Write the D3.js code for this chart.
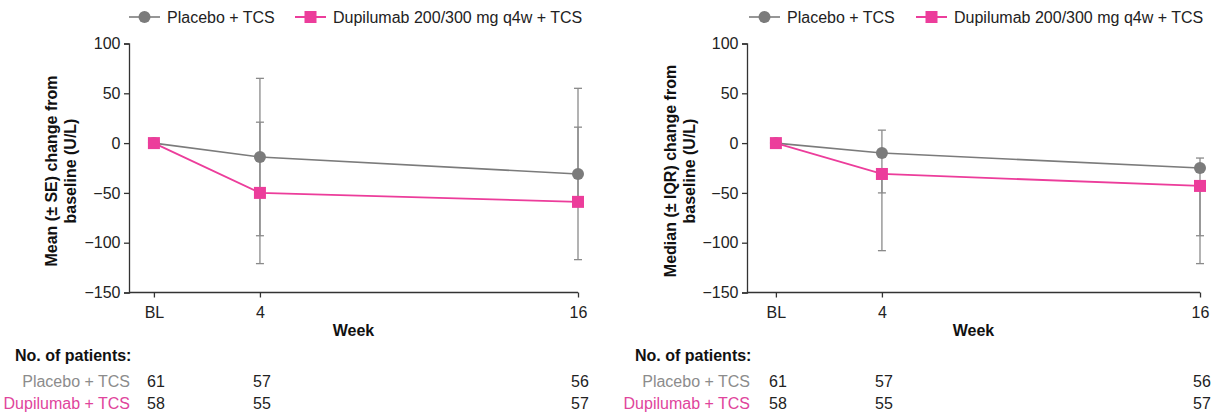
<!DOCTYPE html>
<html>
<head>
<meta charset="utf-8">
<script src="https://cdn.jsdelivr.net/npm/d3@7/dist/d3.min.js"></script>
<style>
  html, body { margin: 0; padding: 0; background: #fff; }
  svg { display: block; font-family: "Liberation Sans", Arial, sans-serif; }
</style>
</head>
<body>
<svg id="chart" width="1225" height="416"></svg>
<script>
// Visit weeks and their tick labels
const weeks = [0, 4, 16];
const weekLabels = ["BL", "4", "16"];
const yTicks = [100, 50, 0, -50, -100, -150];

// Mean (± SE) change from baseline
const meanPlacebo   = [0, -14, -31];
const meanPlaceboLo = [0, -93, -117];
const meanPlaceboHi = [0, 65, 55];
const meanDupi      = [0, -50, -59];
const meanDupiLo    = [0, -121, -59];
const meanDupiHi    = [0, 21, 16];

// Median (± IQR) change from baseline
const medPlacebo   = [0, -10, -25];
const medPlaceboLo = [0, -50, -93];
const medPlaceboHi = [0, 13, -15];
const medDupi      = [0, -31, -43];
const medDupiLo    = [0, -108, -121];
const medDupiHi    = [0, -31, -43];

// Patients at each visit
const nPlacebo = [61, 57, 56];
const nDupi    = [58, 55, 57];

const legendNames = ["Placebo + TCS", "Dupilumab 200/300 mg q4w + TCS"];
const rowNames = ["Placebo + TCS", "Dupilumab + TCS"];

const GREY = "#7b7b7b";
const PINK = "#ec3d9b";
const AXIS = "#333";
const FS = 16;

const svg = d3.select("#chart");

function panel(opt) {
  const g = svg.append("g");
  const x = d3.scaleLinear().domain(opt.xDomain).range([opt.left, opt.right]);
  const y = d3.scaleLinear().domain([-150, 100]).range([292.5, 43.5]);

  // Legend
  const lg = g.append("g");
  const lx = opt.legendX;
  lg.append("line").attr("x1", lx[0]).attr("x2", lx[0] + 31).attr("y1", 17).attr("y2", 17)
    .attr("stroke", GREY).attr("stroke-width", 1.6);
  lg.append("circle").attr("cx", lx[0] + 15.5).attr("cy", 17).attr("r", 6).attr("fill", GREY);
  lg.append("text").attr("x", lx[0] + 38).attr("y", 23).attr("font-size", FS).attr("fill", "#222")
    .text(legendNames[0]);
  lg.append("line").attr("x1", lx[1]).attr("x2", lx[1] + 31).attr("y1", 17).attr("y2", 17)
    .attr("stroke", PINK).attr("stroke-width", 2);
  lg.append("rect").attr("x", lx[1] + 9.5).attr("y", 11).attr("width", 12).attr("height", 12).attr("fill", PINK);
  lg.append("text").attr("x", lx[1] + 38).attr("y", 23).attr("font-size", FS).attr("fill", "#222")
    .text(legendNames[1]);

  // Axes
  const yAxis = g.append("g").attr("transform", `translate(${opt.left},0)`)
    .call(d3.axisLeft(y).tickValues(yTicks).tickSize(5).tickPadding(3.5));
  const xAxis = g.append("g").attr("transform", `translate(0,${y(-150)})`)
    .call(d3.axisBottom(x).tickValues(weeks).tickFormat((d, i) => weekLabels[i]).tickSize(5).tickPadding(9));
  [yAxis, xAxis].forEach(a => {
    a.select(".domain").attr("stroke", AXIS).attr("stroke-width", 1.3);
    a.selectAll(".tick line").attr("stroke", AXIS).attr("stroke-width", 1.3);
    a.selectAll(".tick text").attr("font-size", FS).attr("fill", "#222")
      .attr("font-family", "Liberation Sans, Arial, sans-serif");
  });
  xAxis.select(".domain").attr("d", `M${opt.left},0H${opt.right}`);

  // Y axis title (two lines, rotated)
  const yt = g.append("text").attr("transform", `translate(${opt.yTitleX},171) rotate(-90)`)
    .attr("text-anchor", "middle").attr("font-size", FS).attr("font-weight", "bold").attr("fill", "#111");
  yt.append("tspan").attr("x", 0).attr("dy", 0).text(opt.yTitle[0]);
  yt.append("tspan").attr("x", 0).attr("dy", 19).text(opt.yTitle[1]);

  // X axis title
  g.append("text").attr("x", (opt.left + opt.right) / 2).attr("y", 336).attr("text-anchor", "middle")
    .attr("font-size", FS).attr("font-weight", "bold").attr("fill", "#111").text("Week");

  // Error bars
  const series = [
    { v: opt.placebo, lo: opt.placeboLo, hi: opt.placeboHi },
    { v: opt.dupi, lo: opt.dupiLo, hi: opt.dupiHi }
  ];
  const eb = g.append("g").attr("stroke", "#8a8a8a").attr("stroke-width", 1.3);
  series.forEach(s => {
    weeks.forEach((w, i) => {
      if (s.lo[i] === s.hi[i]) return;
      const cx = x(w);
      eb.append("line").attr("x1", cx).attr("x2", cx).attr("y1", y(s.lo[i])).attr("y2", y(s.hi[i]));
      [s.lo[i], s.hi[i]].forEach(val => {
        if (val === s.v[i]) return;
        eb.append("line").attr("x1", cx - 4).attr("x2", cx + 4).attr("y1", y(val)).attr("y2", y(val));
      });
    });
  });

  // Lines
  const line = d3.line().x((d, i) => x(weeks[i])).y(d => y(d));
  g.append("path").datum(opt.placebo).attr("d", line).attr("fill", "none")
    .attr("stroke", GREY).attr("stroke-width", 1.6);
  g.append("path").datum(opt.dupi).attr("d", line).attr("fill", "none")
    .attr("stroke", PINK).attr("stroke-width", 1.8);

  // Markers
  g.selectAll(".pm").data(opt.placebo).enter().append("circle")
    .attr("cx", (d, i) => x(weeks[i])).attr("cy", d => y(d)).attr("r", 6).attr("fill", GREY);
  g.selectAll(".dm").data(opt.dupi).enter().append("rect")
    .attr("x", (d, i) => x(weeks[i]) - 6).attr("y", d => y(d) - 6)
    .attr("width", 12).attr("height", 12).attr("fill", PINK);

  // Number of patients table
  g.append("text").attr("x", opt.tableX).attr("y", 361).attr("font-size", FS).attr("font-weight", "bold")
    .attr("fill", "#111").text("No. of patients:");
  const rows = [
    { name: rowNames[0], n: nPlacebo, color: "#8c8c8c", yy: 387 },
    { name: rowNames[1], n: nDupi, color: "#e0449c", yy: 409 }
  ];
  rows.forEach(r => {
    g.append("text").attr("x", opt.rowLabelRight).attr("y", r.yy).attr("text-anchor", "end")
      .attr("font-size", FS).attr("fill", r.color).text(r.name);
    r.n.forEach((n, i) => {
      g.append("text").attr("x", x(weeks[i]) + 2).attr("y", r.yy).attr("text-anchor", "middle")
        .attr("font-size", FS).attr("fill", "#222").text(n);
    });
  });
}

panel({
  xDomain: [-0.94, 16], left: 129, right: 578,
  legendX: [129, 295],
  yTitleX: 57,
  yTitle: ["Mean (\u00b1 SE) change from", "baseline (U/L)"],
  placebo: meanPlacebo, placeboLo: meanPlaceboLo, placeboHi: meanPlaceboHi,
  dupi: meanDupi, dupiLo: meanDupiLo, dupiHi: meanDupiHi,
  tableX: 15, rowLabelRight: 130
});

panel({
  xDomain: [-1.09, 16], left: 747, right: 1200,
  legendX: [749, 916],
  yTitleX: 676,
  yTitle: ["Median (\u00b1 IQR) change from", "baseline (U/L)"],
  placebo: medPlacebo, placeboLo: medPlaceboLo, placeboHi: medPlaceboHi,
  dupi: medDupi, dupiLo: medDupiLo, dupiHi: medDupiHi,
  tableX: 635, rowLabelRight: 750
});
</script>
</body>
</html>
